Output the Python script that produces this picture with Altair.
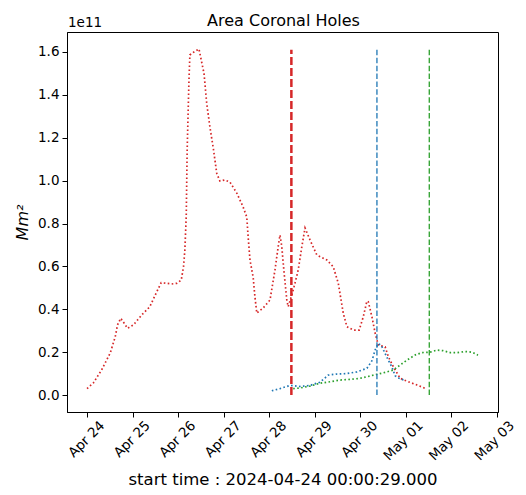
import altair as alt
import pandas as pd

# ---- data (x in days since 2024-04-24 00:00:29, y in units of 1e11 Mm^2) ----
red_x = [0.0, 0.14, 0.32, 0.51, 0.62, 0.67, 0.74, 0.82, 0.89, 1.02, 1.2, 1.38, 1.52, 1.63,
         1.75, 1.86, 1.97, 2.07, 2.12, 2.15, 2.18, 2.2, 2.24, 2.26, 2.35, 2.46, 2.57, 2.63,
         2.7, 2.78, 2.85, 2.92, 3.03, 3.14, 3.29, 3.43, 3.51, 3.54, 3.58, 3.65, 3.69, 3.73,
         3.87, 4.02, 4.13, 4.2, 4.24, 4.28, 4.33, 4.39, 4.42, 4.5, 4.57, 4.64, 4.72, 4.79,
         4.9, 5.05, 5.27, 5.41, 5.52, 5.63, 5.71, 5.85, 5.98, 6.07, 6.15, 6.18, 6.26, 6.33,
         6.4, 6.55, 6.62, 6.73, 6.88, 7.06, 7.25, 7.43]
red_y = [0.03, 0.057, 0.117, 0.196, 0.272, 0.327, 0.358, 0.334, 0.311, 0.327, 0.373, 0.412,
         0.476, 0.524, 0.521, 0.518, 0.521, 0.536, 0.598, 0.676, 0.832, 1.14, 1.47, 1.586,
         1.6, 1.614, 1.5, 1.36, 1.25, 1.143, 1.034, 0.998, 1.003, 0.993, 0.942, 0.877, 0.83,
         0.737, 0.63, 0.55, 0.457, 0.382, 0.406, 0.443, 0.583, 0.692, 0.746, 0.692, 0.569,
         0.443, 0.412, 0.466, 0.522, 0.583, 0.692, 0.779, 0.723, 0.653, 0.63, 0.598, 0.522,
         0.382, 0.319, 0.303, 0.303, 0.365, 0.438, 0.435, 0.365, 0.289, 0.233, 0.225, 0.179,
         0.132, 0.078, 0.062, 0.047, 0.031]

blue_x = [4.06, 4.24, 4.46, 4.68, 4.9, 5.12, 5.3, 5.48, 5.7, 5.93, 6.15, 6.26, 6.33, 6.4,
          6.47, 6.58, 6.7, 6.77, 6.88, 6.97]
blue_y = [0.02, 0.03, 0.045, 0.04, 0.045, 0.06, 0.093, 0.098, 0.1, 0.108, 0.125, 0.16, 0.21,
          0.24, 0.23, 0.18, 0.13, 0.09, 0.075, 0.07]

green_x = [4.53, 4.68, 4.9, 5.12, 5.34, 5.56, 5.78, 6.0, 6.22, 6.4, 6.59, 6.73, 6.88, 7.03,
           7.21, 7.36, 7.54, 7.69, 7.82, 7.98, 8.13, 8.31, 8.46, 8.59]
green_y = [0.03, 0.033, 0.042, 0.055, 0.062, 0.07, 0.073, 0.078, 0.089, 0.098, 0.108, 0.117,
           0.14, 0.163, 0.187, 0.198, 0.2, 0.21, 0.207, 0.198, 0.198, 0.203, 0.2, 0.186]

vline_x = [4.49, 6.37, 7.52]
vline_top = 1.61

series_names = ["red", "blue", "green"]
series_colors = ["#d62728", "#1f77b4", "#2ca02c"]

tick_days = list(range(10))
tick_labels = ["Apr 24", "Apr 25", "Apr 26", "Apr 27", "Apr 28", "Apr 29", "Apr 30",
               "May 01", "May 02", "May 03"]
y_ticks = [0.0, 0.2, 0.4, 0.6, 0.8, 1.0, 1.2, 1.4, 1.6]

chart_title = "Area Coronal Holes"
offset_label = "1e11"

W, H = 431, 380

# ---- build tables ----
rows = []
for name, xs, ys in zip(series_names, [red_x, blue_x, green_x], [red_y, blue_y, green_y]):
    for i, (a, b) in enumerate(zip(xs, ys)):
        rows.append({"series": name, "day": a, "area": b, "ord": i})
df = pd.DataFrame(rows)

xscale = alt.Scale(domain=[-0.44, 9.03], nice=False, zero=False)
yscale = alt.Scale(domain=[-0.079, 1.693], nice=False, zero=False)

label_expr = "[" + ",".join("'%s'" % t for t in tick_labels) + "][datum.value]"

xaxis = alt.Axis(values=tick_days, labelExpr=label_expr, labelAngle=-45, labelAlign="right",
                 labelBaseline="middle", labelPadding=6, labelOffset=15, labelFlush=False,
                 labelOverlap=False, labelBound=False,
                 title="start time : 2024-04-24 00:00:29.000", titleFontSize=16.5,
                 titleFontWeight="normal", titleY=72, titleBaseline="alphabetic")
yaxis = alt.Axis(values=y_ticks, format=".1f", title="Mm²", titleFontStyle="italic",
                 titleFontSize=16, titleFontWeight="normal", titleAngle=-90,
                 titleX=-40, titleY=H / 2, titleAlign="center", titleBaseline="alphabetic",
                 labelPadding=3)

lines = alt.Chart(df).mark_line(strokeWidth=1.7, strokeDash=[1.6, 2.4]).encode(
    x=alt.X("day:Q", scale=xscale, axis=xaxis),
    y=alt.Y("area:Q", scale=yscale, axis=yaxis),
    color=alt.Color("series:N", scale=alt.Scale(domain=series_names, range=series_colors), legend=None),
    order="ord:Q",
    detail="series:N",
)

vl = pd.DataFrame({"day": vline_x, "series": series_names, "y0": [0.0] * 3, "y1": [vline_top] * 3})

rule_red = alt.Chart(vl[vl.series == "red"]).mark_rule(color=series_colors[0], strokeWidth=2.5,
                                                        strokeDash=[8, 3]).encode(
    x="day:Q", y="y0:Q", y2="y1:Q")
rule_blue = alt.Chart(vl[vl.series == "blue"]).mark_rule(color=series_colors[1], strokeWidth=1.3,
                                                          strokeDash=[5.5, 2.4]).encode(
    x="day:Q", y="y0:Q", y2="y1:Q")
rule_green = alt.Chart(vl[vl.series == "green"]).mark_rule(color=series_colors[2], strokeWidth=1.3,
                                                            strokeDash=[5.5, 2.4]).encode(
    x="day:Q", y="y0:Q", y2="y1:Q")

offset_txt = alt.Chart(pd.DataFrame({"t": [offset_label]})).mark_text(
    align="left", baseline="alphabetic", font="DejaVu Sans", fontSize=13.5, color="black"
).encode(x=alt.value(1), y=alt.value(-5), text="t:N")

title_txt = alt.Chart(pd.DataFrame({"t": [chart_title]})).mark_text(
    align="center", baseline="alphabetic", font="DejaVu Sans", fontSize=16, color="black"
).encode(x=alt.value(W / 2 + 1), y=alt.value(-6), text="t:N")

chart = alt.layer(lines, rule_red, rule_blue, rule_green, offset_txt, title_txt).properties(
    width=W, height=H,
    autosize=alt.AutoSizeParams(type="none"),
    padding={"left": 59, "top": 24, "right": 18, "bottom": 75},
).configure_view(stroke="black", strokeWidth=1).configure_axis(
    labelFont="DejaVu Sans", labelFontSize=13.5, labelColor="black",
    titleFont="DejaVu Sans", titleColor="black",
    tickColor="black", tickSize=5, domainColor="black", grid=False,
)

chart.save("out.html", embed_options={"renderer": "svg", "actions": False})
